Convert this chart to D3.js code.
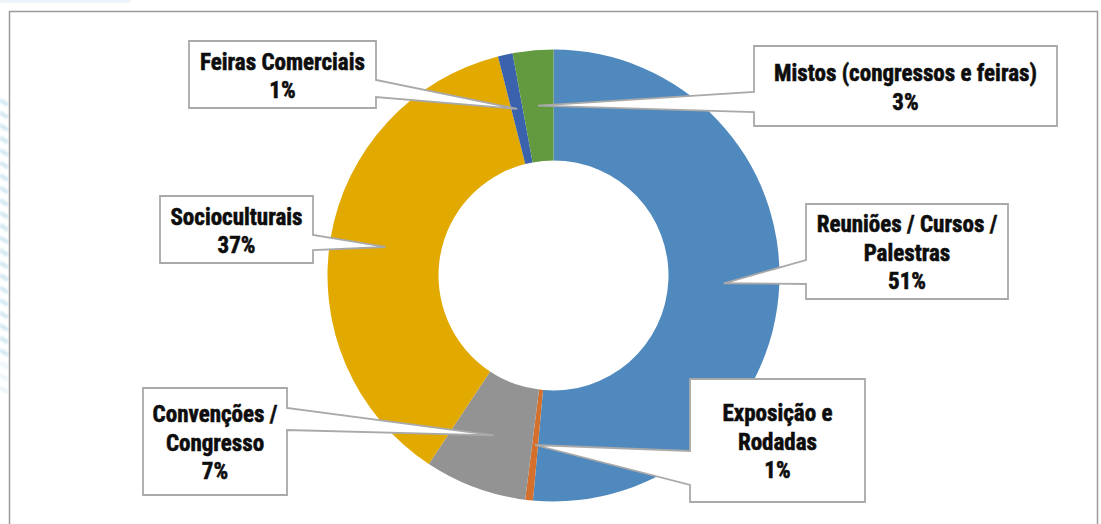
<!DOCTYPE html>
<html>
<head>
<meta charset="utf-8">
<script src="https://cdn.jsdelivr.net/npm/d3@7"></script>
<style>
  html, body { margin: 0; padding: 0; background: #ffffff; }
  svg { display: block; }
  .lbl { font-family: "Liberation Sans Narrow", "Roboto Condensed", "DejaVu Sans Condensed", "Liberation Sans", sans-serif; font-stretch: condensed; font-weight: bold; fill: #0d0d0d; stroke: #0d0d0d; stroke-width: 0.55px; paint-order: stroke; }
</style>
</head>
<body>
<svg id="chart" width="1101" height="524"></svg>
<script>
// Event types (share of events, %)
const categories = [
  ["Reuniões / Cursos /", "Palestras"],
  ["Exposição e", "Rodadas"],
  ["Convenções /", "Congresso"],
  ["Socioculturais"],
  ["Feiras Comerciais"],
  ["Mistos (congressos e feiras)"]
];
const values = [51.45, 0.55, 7.3, 36.75, 1.05, 2.9];
const colors = ["#4f89bd", "#d4702b", "#939393", "#e2a900", "#3b63ad", "#63993f"];

const W = 1101, H = 524;
const svg = d3.select("#chart");

// faint page background details outside the chart frame
const defs = svg.append("defs");
defs.append("filter").attr("id", "soft")
  .append("feGaussianBlur").attr("stdDeviation", 1.2);
const bg = svg.append("g").attr("filter", "url(#soft)");
for (let i = 0; i < 24; i++) {
  const y = 100 + i * 12.5;
  bg.append("line")
    .attr("x1", 0).attr("y1", y).attr("x2", 8).attr("y2", y + 5)
    .attr("stroke", "#cfe6f1").attr("stroke-width", 4).attr("opacity", i > 20 ? 0.4 : 0.9);
}
bg.append("rect").attr("x", 0).attr("y", 0).attr("width", 130).attr("height", 2).attr("fill", "#dcebf5");

// chart frame
svg.append("rect")
  .attr("x", 9.5).attr("y", 11.5).attr("width", 1088).attr("height", 600)
  .attr("fill", "#ffffff").attr("stroke", "#9a9a9a").attr("stroke-width", 1.5);

// donut
const cx = 553.5, cy = 275.5, rOuter = 226, rInner = 115;
const pie = d3.pie().sort(null).value(d => d);
const arcs = pie(values);
const arc = d3.arc().innerRadius(rInner).outerRadius(rOuter);
const total = d3.sum(values);
const pct = d3.format(".0%");

const g = svg.append("g").attr("transform", `translate(${cx},${cy})`);
g.selectAll("path.slice")
  .data(arcs)
  .join("path")
  .attr("class", "slice")
  .attr("d", arc)
  .attr("fill", (d, i) => colors[i]);

// callout boxes: rectangle + wedge pointing at the slice centroid
// side: edge that carries the pointer; p0/p1: pointer base along that edge
const callouts = [
  { x0: 806, y0: 204, x1: 1008, y1: 299, side: "left",  p0: 260, p1: 284 },
  { x0: 690, y0: 379, x1: 865,  y1: 502, side: "left",  p0: 451, p1: 485 },
  { x0: 143, y0: 388, x1: 287,  y1: 495, side: "right", p0: 408, p1: 430 },
  { x0: 160, y0: 196, x1: 313,  y1: 263, side: "right", p0: 235, p1: 250 },
  { x0: 189, y0: 41,  x1: 376,  y1: 108, side: "right", p0: 80,  p1: 97 },
  { x0: 754, y0: 46,  x1: 1057, y1: 126, side: "left",  p0: 92,  p1: 112 }
];

const lineH = 28.5, capH = 16.5;
const labels = svg.append("g");
arcs.forEach((a, i) => {
  const c = callouts[i];
  const [tx0, ty0] = arc.centroid(a);
  const tx = tx0 + cx, ty = ty0 + cy;
  let dPath;
  if (c.side === "right") {
    dPath = `M${c.x0},${c.y0}H${c.x1}V${c.p0}L${tx},${ty}L${c.x1},${c.p1}V${c.y1}H${c.x0}Z`;
  } else {
    dPath = `M${c.x0},${c.y0}H${c.x1}V${c.y1}H${c.x0}V${c.p1}L${tx},${ty}L${c.x0},${c.p0}Z`;
  }
  labels.append("path")
    .attr("d", dPath)
    .attr("fill", "#ffffff")
    .attr("stroke", "#a9a9a9")
    .attr("stroke-width", 1.8)
    .attr("stroke-linejoin", "miter");

  const lines = categories[i].concat([pct(values[i] / total)]);
  const mx = (c.x0 + c.x1) / 2;
  const my = (c.y0 + c.y1) / 2 + 1;
  const n = lines.length;
  lines.forEach((t, k) => {
    labels.append("text")
      .attr("class", "lbl")
      .attr("x", mx)
      .attr("y", my + (k - (n - 1) / 2) * lineH + capH / 2)
      .attr("text-anchor", "middle")
      .attr("font-size", 23)
      .text(t);
  });
});
</script>
</body>
</html>
